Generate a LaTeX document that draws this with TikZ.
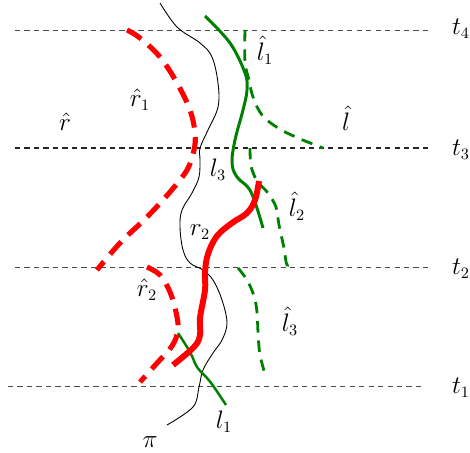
\documentclass[tikz,border=0pt]{standalone}
\usepackage{tikz}
\usepackage{xcolor}
\usetikzlibrary{positioning}
\definecolor{leafgreen}{HTML}{008000}
\definecolor{signalred}{HTML}{FF0000}
\tikzset{
  timeline/.style={
    draw=black!70, line width=0.45pt, dash pattern=on 3pt off 2.4pt
  },
  trajline/.style={
    draw=black, line width=0.5pt
  },
  lpath/.style={
    draw=leafgreen, line width=#1
  },
  lpath/.default=1.7pt,
  lhat/.style={
    draw=leafgreen, line width=1.6pt, dash pattern=on 6.5pt off 4.5pt
  },
  rpath/.style={
    draw=signalred, line width=3.4pt
  },
  rhat/.style={
    draw=signalred, line width=2.9pt, dash pattern=on 9.5pt off 5.5pt
  },
  pathlabel/.style={
    font=\fontsize{13.5pt}{16pt}\selectfont, inner sep=1pt
  },
}
\begin{document}
\begin{tikzpicture}[x=0.02cm, y=-0.02cm]
  \useasboundingbox (0,0) rectangle (470,453);
  % time levels
  \draw[timeline] (15,30) -- (432,30);
  \draw[timeline, draw=black!85, line width=0.6pt] (15,148) -- (432,148);
  \draw[timeline] (15,267) -- (432,267);
  \draw[timeline] (8,386) -- (425,386);
  \node[pathlabel] (t4) at (461,29) {$t_4$};
  \node[pathlabel] (t3) at (461,150) {$t_3$};
  \node[pathlabel] (t2) at (461,269) {$t_2$};
  \node[pathlabel] (t1) at (461,388) {$t_1$};
  % trajectory pi
  \draw[trajline] plot[smooth, tension=0.6] coordinates {
    (160,3) (177,27) (200,43) (212,57) (218,83) (218,107) (208,130)
    (200,148) (200,160) (199,177) (192,193) (182,210) (180,227) (183,250)
    (190,263) (203,270) (213,280) (222,300) (227,323) (222,340) (213,353)
    (203,370) (199,387) (193,407) (167,425)};
  % left paths
  \draw[lpath] plot[smooth, tension=0.6] coordinates {
    (205,16) (230,43) (245,73) (247,90) (243,110) (235,140) (232,163)
    (237,177) (251,192) (263,228)};
  \draw[lpath=1.4pt] plot[smooth, tension=0.6] coordinates {
    (178,333) (190,352) (197,367) (207,378) (214,387) (226,405)};
  \draw[lhat] plot[smooth, tension=0.6] coordinates {
    (245,30) (245,62) (249,80) (253,97) (262,115) (278,128) (298,138) (323,148)};
  \draw[lhat] plot[smooth, tension=0.5] coordinates {
    (250,148) (251,166) (257,181) (268,193) (276,207) (279,225) (284,248)
    (287,265) (293,261)};
  \draw[lhat] plot[smooth, tension=0.6] coordinates {
    (238,268) (247,280) (254,296) (257,312) (258,332) (260,355) (266,377)};
  % right paths
  \draw[rpath] plot[smooth, tension=0.6] coordinates {
    (259,181) (255,200) (247,213) (232,223) (217,236) (208,254) (205,272)
    (205,290) (200,318) (200,335) (194,347) (173,365)};
  \draw[rhat] plot[smooth, tension=0.6] coordinates {
    (127,30) (140,38) (160,57) (177,83) (190,110) (195,133) (194,150)
    (187,170) (170,192) (147,217) (120,243) (97,270)};
  \draw[rhat] plot[smooth, tension=0.6] coordinates {
    (147,267) (160,275) (170,292) (176,312) (178,330) (172,346) (158,362)
    (140,382)};
  % labels
  \node[pathlabel] (rhat1) at (140,100) {$\hat{r}_1$};
  \node[pathlabel] (rhat) at (65,122) {$\hat{r}$};
  \node[pathlabel] (lhat) at (346,118) {$\hat{l}$};
  \node[pathlabel] (lhat1) at (265,50) {$\hat{l}_1$};
  \node[pathlabel] (l3) at (218,170) {$l_3$};
  \node[pathlabel] (lhat2) at (297,206) {$\hat{l}_2$};
  \node[pathlabel] (r2) at (200,232) {$r_2$};
  \node[pathlabel] (rhat2) at (147,290) {$\hat{r}_2$};
  \node[pathlabel] (lhat3) at (290,321) {$\hat{l}_3$};
  \node[pathlabel] (l1) at (224,422) {$l_1$};
  \node[pathlabel] (pi) at (150,442) {$\pi$};
\end{tikzpicture}
\end{document}
